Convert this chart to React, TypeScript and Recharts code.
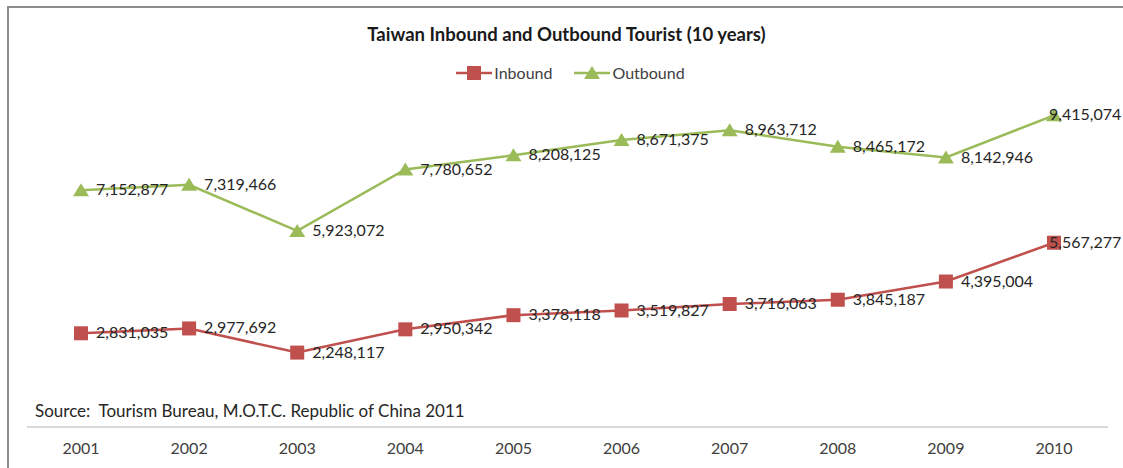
import { LineChart, Line, XAxis, YAxis, LabelList } from 'recharts';

// values
const years = ['2001', '2002', '2003', '2004', '2005', '2006', '2007', '2008', '2009', '2010'];
const inbound = [2831035, 2977692, 2248117, 2950342, 3378118, 3519827, 3716063, 3845187, 4395004, 5567277];
const outbound = [7152877, 7319466, 5923072, 7780652, 8208125, 8671375, 8963712, 8465172, 8142946, 9415074];

const data = years.map((year, i) => ({ year, inbound: inbound[i], outbound: outbound[i] }));

const RED = '#C0504D';
const GREEN = '#9BBB59';
const FONT = 'Lato, "Open Sans", sans-serif';

const SquareDot = (props: any) => {
  const { cx, cy } = props;
  if (cx == null || cy == null) return null;
  return <rect x={cx - 7} y={cy - 7} width={14} height={14} fill={RED} />;
};

const TriangleDot = (props: any) => {
  const { cx, cy } = props;
  if (cx == null || cy == null) return null;
  return <polygon points={`${cx},${cy - 7} ${cx + 8},${cy + 6} ${cx - 8},${cy + 6}`} fill={GREEN} />;
};

const renderValue = (props: any) => {
  const { x, y, value, index } = props;
  const last = index === years.length - 1;
  return (
    <text
      x={last ? x - 5 : x + 15}
      y={y + 1}
      dominantBaseline="middle"
      fontSize={16}
      fontFamily={FONT}
      fill="#262626"
    >
      {Number(value).toLocaleString('en-US')}
    </text>
  );
};

const LegendRow = () => (
  <div style={{ display: 'flex', justifyContent: 'center', alignItems: 'center', paddingLeft: 18, fontFamily: FONT, fontSize: 16, color: '#404040' }}>
    <svg width={36} height={16}>
      <line x1={0} y1={8} x2={36} y2={8} stroke={RED} strokeWidth={2.5} />
      <rect x={11} y={1} width={14} height={14} fill={RED} />
    </svg>
    <span style={{ marginLeft: 2, marginRight: 22 }}>Inbound</span>
    <svg width={36} height={16}>
      <line x1={0} y1={8} x2={36} y2={8} stroke={GREEN} strokeWidth={2.5} />
      <polygon points="18,1 26,14 10,14" fill={GREEN} />
    </svg>
    <span style={{ marginLeft: 2 }}>Outbound</span>
  </div>
);

export default function App() {
  return (
    <div style={{ position: 'fixed', left: 0, top: 0, width: 1123, height: 468, background: '#fff', overflow: 'hidden' }}>
      <style>{'html, body { overflow: hidden; }'}</style>
      {/* frame, only top and left edges show */}
      <div style={{ position: 'absolute', left: 7, top: 6, width: 1116, height: 2, background: '#8c8c8c' }} />
      <div style={{ position: 'absolute', left: 7, top: 6, width: 2, height: 462, background: '#8c8c8c' }} />
      <div style={{ position: 'absolute', left: 10, top: 23, width: 1113, textAlign: 'center', fontFamily: FONT, fontWeight: 700, fontSize: 18.5, color: '#1a1a1a' }}>
        Taiwan Inbound and Outbound Tourist (10 years)
      </div>
      <div style={{ position: 'absolute', left: 0, top: 63, width: 1123 }}>
        <LegendRow />
      </div>
      <div style={{ position: 'absolute', left: 35, top: 400, fontFamily: FONT, fontSize: 17, color: '#262626' }}>
        Source:&nbsp; Tourism Bureau, M.O.T.C. Republic of China 2011
      </div>
      <div style={{ position: 'absolute', left: 0, top: 0 }}>
        <LineChart width={1123} height={468} data={data} margin={{ top: 96, right: 15, bottom: 11, left: 27 }}>
          <XAxis
            dataKey="year"
            height={30}
            padding={{ left: 54, right: 54 }}
            axisLine={{ stroke: '#d9d9d9', strokeWidth: 2 }}
            tickLine={false}
            tickMargin={10}
            tick={{ fill: '#404040', fontSize: 16, fontFamily: FONT }}
          />
          <YAxis hide domain={[0, 10000000]} />
          <Line
            dataKey="inbound"
            stroke={RED}
            strokeWidth={2.5}
            dot={<SquareDot />}
            activeDot={false}
            isAnimationActive={false}
          >
            <LabelList dataKey="inbound" content={renderValue} />
          </Line>
          <Line
            dataKey="outbound"
            stroke={GREEN}
            strokeWidth={2.5}
            dot={<TriangleDot />}
            activeDot={false}
            isAnimationActive={false}
          >
            <LabelList dataKey="outbound" content={renderValue} />
          </Line>
        </LineChart>
      </div>
    </div>
  );
}
